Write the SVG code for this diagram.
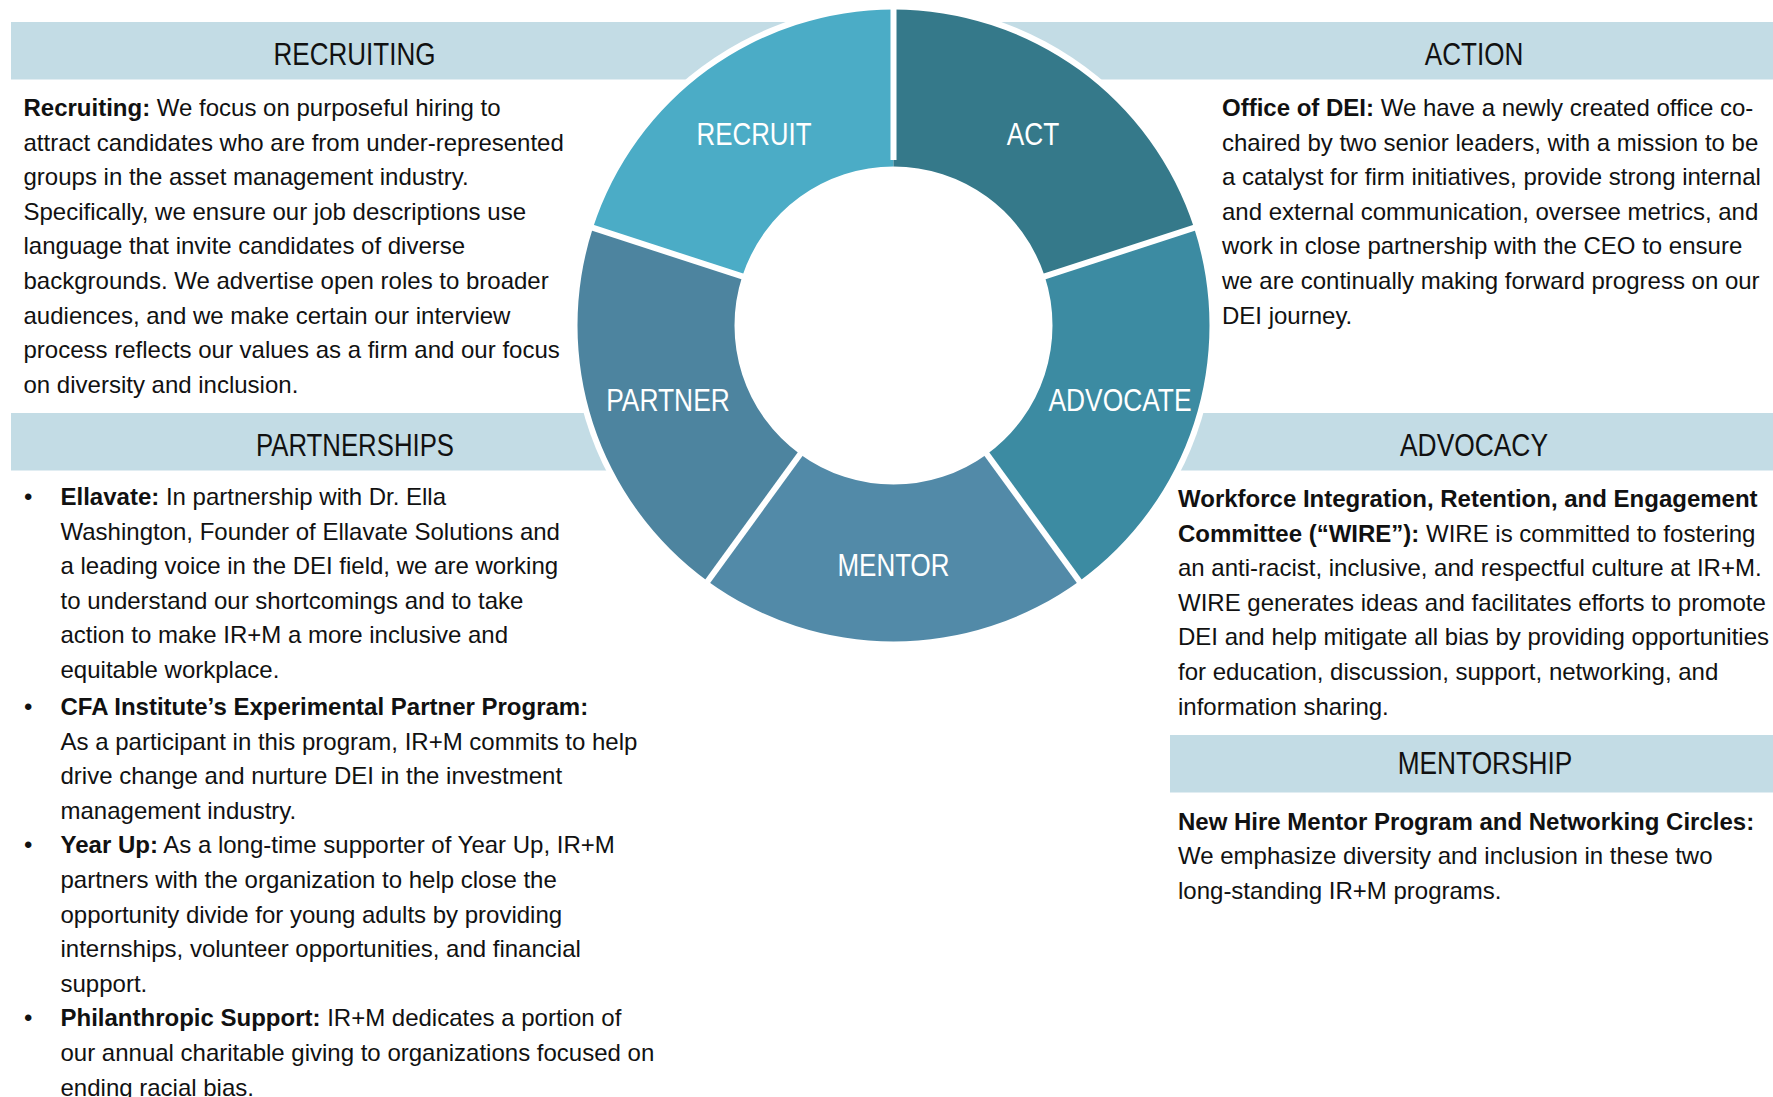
<svg xmlns="http://www.w3.org/2000/svg" width="1773" height="1097" viewBox="0 0 1773 1097">
<style>
.band{fill:#C3DCE5}
.title{font-family:'Liberation Sans',Arial,sans-serif;font-size:32px;fill:#111;text-anchor:middle}
.seg-label{font-family:'Liberation Sans',Arial,sans-serif;font-size:32px;fill:#fff;text-anchor:middle}
.body{font-family:'Liberation Sans',Arial,sans-serif;font-size:24px;fill:#111}
.b{font-weight:bold}
.gap{stroke:#fff;stroke-width:6;fill:none}
</style>
<rect width="1773" height="1097" fill="#fff"/>

<g id="banners">
<rect class="band" x="11" y="22" width="890" height="57.5"/>
<rect class="band" x="893" y="22" width="880" height="57.5"/>
<rect class="band" x="11" y="413" width="800" height="57.5"/>
<rect class="band" x="980" y="413" width="793" height="57.5"/>
<rect class="band" x="1170" y="735" width="603" height="57.5"/>
</g>

<g id="wheel">
<circle cx="893.5" cy="325.5" r="322" fill="#fff"/>
<g id="seg-recruit">
<path d="M592.97 227.85 A316 316 0 0 1 893.5 9.5 L893.5 166.5 A159 159 0 0 0 742.28 276.37 Z" fill="#4BACC6"/>
<text class="seg-label" x="754" y="145" textLength="115" lengthAdjust="spacingAndGlyphs">RECRUIT</text>
</g>
<g id="seg-act">
<path d="M893.5 9.5 A316 316 0 0 1 1194.03 227.85 L1044.72 276.37 A159 159 0 0 0 893.5 166.5 Z" fill="#35798A"/>
<text class="seg-label" x="1033" y="145" textLength="52.5" lengthAdjust="spacingAndGlyphs">ACT</text>
</g>
<g id="seg-advocate">
<path d="M1194.03 227.85 A316 316 0 0 1 1079.24 581.15 L986.96 454.13 A159 159 0 0 0 1044.72 276.37 Z" fill="#3C8BA2"/>
<text class="seg-label" x="1120" y="411" textLength="143" lengthAdjust="spacingAndGlyphs">ADVOCATE</text>
</g>
<g id="seg-mentor">
<path d="M1079.24 581.15 A316 316 0 0 1 707.76 581.15 L800.04 454.13 A159 159 0 0 0 986.96 454.13 Z" fill="#528AA8"/>
<text class="seg-label" x="893.5" y="576" textLength="112" lengthAdjust="spacingAndGlyphs">MENTOR</text>
</g>
<g id="seg-partner">
<path d="M707.76 581.15 A316 316 0 0 1 592.97 227.85 L742.28 276.37 A159 159 0 0 0 800.04 454.13 Z" fill="#4D849F"/>
<text class="seg-label" x="668" y="411" textLength="123.5" lengthAdjust="spacingAndGlyphs">PARTNER</text>
</g>
<g id="seg-gaps">
<line class="gap" x1="893.5" y1="160" x2="893.5" y2="4"/>
<line class="gap" x1="1038.5" y1="278.4" x2="1199.2" y2="226.2"/>
<line class="gap" x1="983.1" y1="448.9" x2="1082.4" y2="585.5"/>
<line class="gap" x1="803.9" y1="448.9" x2="704.6" y2="585.5"/>
<line class="gap" x1="748.5" y1="278.4" x2="587.8" y2="226.2"/>
</g>
</g>

<g id="connectors"/>

<g id="recruiting">
<text class="title" x="354.5" y="65" textLength="162" lengthAdjust="spacingAndGlyphs">RECRUITING</text>
<text class="body" x="23.5" y="116"><tspan class="b">Recruiting:</tspan> We focus on purposeful hiring to</text>
<text class="body" x="23.5" y="150.6">attract candidates who are from under-represented</text>
<text class="body" x="23.5" y="185.2">groups in the asset management industry.</text>
<text class="body" x="23.5" y="219.8">Specifically, we ensure our job descriptions use</text>
<text class="body" x="23.5" y="254.4">language that invite candidates of diverse</text>
<text class="body" x="23.5" y="289">backgrounds. We advertise open roles to broader</text>
<text class="body" x="23.5" y="323.6">audiences, and we make certain our interview</text>
<text class="body" x="23.5" y="358.2">process reflects our values as a firm and our focus</text>
<text class="body" x="23.5" y="392.8">on diversity and inclusion.</text>
</g>

<g id="action">
<text class="title" x="1474" y="65" textLength="98.5" lengthAdjust="spacingAndGlyphs">ACTION</text>
<text class="body" x="1222" y="116"><tspan class="b">Office of DEI:</tspan> We have a newly created office co-</text>
<text class="body" x="1222" y="150.6">chaired by two senior leaders, with a mission to be</text>
<text class="body" x="1222" y="185.2">a catalyst for firm initiatives, provide strong internal</text>
<text class="body" x="1222" y="219.8">and external communication, oversee metrics, and</text>
<text class="body" x="1222" y="254.4">work in close partnership with the CEO to ensure</text>
<text class="body" x="1222" y="289">we are continually making forward progress on our</text>
<text class="body" x="1222" y="323.6">DEI journey.</text>
</g>

<g id="partnerships">
<text class="title" x="355" y="456" textLength="198" lengthAdjust="spacingAndGlyphs">PARTNERSHIPS</text>
<text class="body" x="24" y="505">•</text>
<text class="body" x="60.5" y="505"><tspan class="b">Ellavate:</tspan> In partnership with Dr. Ella</text>
<text class="body" x="60.5" y="539.6">Washington, Founder of Ellavate Solutions and</text>
<text class="body" x="60.5" y="574.2">a leading voice in the DEI field, we are working</text>
<text class="body" x="60.5" y="608.8">to understand our shortcomings and to take</text>
<text class="body" x="60.5" y="643.4">action to make IR+M a more inclusive and</text>
<text class="body" x="60.5" y="678">equitable workplace.</text>
<text class="body" x="24" y="715">•</text>
<text class="body" x="60.5" y="715"><tspan class="b">CFA Institute’s Experimental Partner Program:</tspan></text>
<text class="body" x="60.5" y="749.6">As a participant in this program, IR+M commits to help</text>
<text class="body" x="60.5" y="784.2">drive change and nurture DEI in the investment</text>
<text class="body" x="60.5" y="818.8">management industry.</text>
<text class="body" x="24" y="853.4">•</text>
<text class="body" x="60.5" y="853.4"><tspan class="b">Year Up:</tspan> As a long-time supporter of Year Up, IR+M</text>
<text class="body" x="60.5" y="888">partners with the organization to help close the</text>
<text class="body" x="60.5" y="922.6">opportunity divide for young adults by providing</text>
<text class="body" x="60.5" y="957.2">internships, volunteer opportunities, and financial</text>
<text class="body" x="60.5" y="991.8">support.</text>
<text class="body" x="24" y="1026.4">•</text>
<text class="body" x="60.5" y="1026.4"><tspan class="b">Philanthropic Support:</tspan> IR+M dedicates a portion of</text>
<text class="body" x="60.5" y="1061">our annual charitable giving to organizations focused on</text>
<text class="body" x="60.5" y="1095.6">ending racial bias.</text>
</g>

<g id="advocacy">
<text class="title" x="1474" y="456" textLength="148" lengthAdjust="spacingAndGlyphs">ADVOCACY</text>
<text class="body b" x="1178" y="507">Workforce Integration, Retention, and Engagement</text>
<text class="body" x="1178" y="541.6"><tspan class="b">Committee (“WIRE”):</tspan> WIRE is committed to fostering</text>
<text class="body" x="1178" y="576.2">an anti-racist, inclusive, and respectful culture at IR+M.</text>
<text class="body" x="1178" y="610.8">WIRE generates ideas and facilitates efforts to promote</text>
<text class="body" x="1178" y="645.4">DEI and help mitigate all bias by providing opportunities</text>
<text class="body" x="1178" y="680">for education, discussion, support, networking, and</text>
<text class="body" x="1178" y="714.6">information sharing.</text>
</g>

<g id="mentorship">
<text class="title" x="1485" y="773.5" textLength="174.5" lengthAdjust="spacingAndGlyphs">MENTORSHIP</text>
<text class="body b" x="1178" y="829.5">New Hire Mentor Program and Networking Circles:</text>
<text class="body" x="1178" y="864.1">We emphasize diversity and inclusion in these two</text>
<text class="body" x="1178" y="898.7">long-standing IR+M programs.</text>
</g>
</svg>
